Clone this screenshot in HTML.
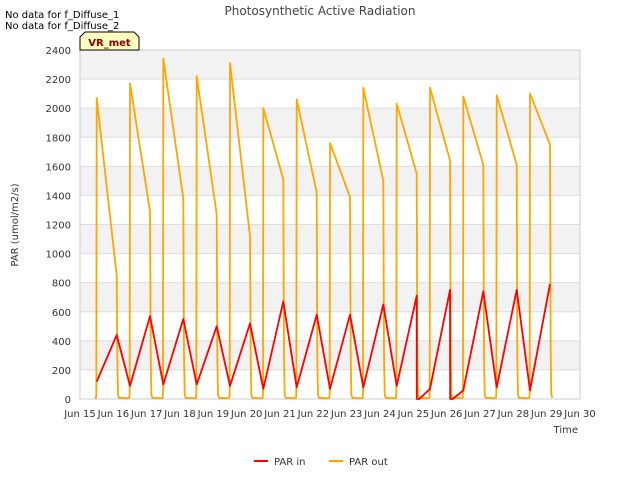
<!DOCTYPE html>
<html><head><meta charset="utf-8"><style>
body{margin:0;background:#fff;}
svg{display:block;font-family:"DejaVu Sans","Liberation Sans",sans-serif;}
</style></head><body>
<svg id="chart" width="640" height="480">
<rect x="0" y="0" width="640" height="480" fill="#fff"/>
<g id="bands"></g>
<g id="grid"></g>
<rect x="80" y="50" width="500" height="349" fill="none" stroke="#ccc"/>
<g id="yticks" font-size="10" fill="#333" text-anchor="end"></g>
<g id="xticks" font-size="10" fill="#333" text-anchor="middle"></g>
<g id="series"></g>
<text x="320" y="15" font-size="12" fill="#444" text-anchor="middle">Photosynthetic Active Radiation</text>
<text x="5" y="18" font-size="10" fill="#000">No data for f_Diffuse_1</text>
<text x="5" y="29" font-size="10" fill="#000">No data for f_Diffuse_2</text>
<g>
<path d="M80,50 L80,37 L85,32 L134,32 L139,37 L139,50 Z" fill="#ffffc0" stroke="#000"/>
<text x="109.5" y="46" font-size="10" font-weight="bold" fill="#8b0000" text-anchor="middle">VR_met</text>
</g>
<text x="18" y="225" font-size="10" fill="#333" text-anchor="middle" transform="rotate(-90 18 225)">PAR (umol/m2/s)</text>
<text x="578" y="433" font-size="10" fill="#333" text-anchor="end">Time</text>
<g>
<line x1="254" y1="461" x2="268" y2="461" stroke="#ff0000" stroke-width="2"/>
<text x="274" y="465" font-size="10" fill="#333">PAR in</text>
</g>
<g>
<line x1="329" y1="461" x2="343" y2="461" stroke="#ffa500" stroke-width="2"/>
<text x="349" y="465" font-size="10" fill="#333">PAR out</text>
</g>
</svg>
<script>
const days = [15,16,17,18,19,20,21,22,23,24,25,26,27,28];
const outPeak = [2070,2170,2340,2220,2310,2000,2060,1760,2140,2030,2140,2080,2090,2100];
const outEnd = [850,1290,1380,1270,1120,1510,1420,1390,1500,1550,1640,1610,1610,1750];
const inLow = [120,90,100,100,90,70,80,70,80,90,70,60,80,60];
const inHigh = [440,570,550,500,520,670,580,580,650,710,750,740,750,790];
const yTicks = [0,200,400,600,800,1000,1200,1400,1600,1800,2000,2200,2400];
const xTickDays = [15,16,17,18,19,20,21,22,23,24,25,26,27,28,29,30];
const NS="http://www.w3.org/2000/svg";
const X0=80,X1=580,Y0=399,Y1=50;
const xs=d=>X0+(d-15)/(30-15)*(X1-X0);
const ys=v=>Y0-v/2400*(Y0-Y1);
function mk(tag,attrs,parent){const e=document.createElementNS(NS,tag);for(const k in attrs)e.setAttribute(k,attrs[k]);parent.appendChild(e);return e;}
const bands=document.getElementById('bands'),grid=document.getElementById('grid');
for(let i=0;i<yTicks.length-1;i++){
 if(i%2===1){const r=mk('rect',{x:X0,y:ys(yTicks[i+1]),width:X1-X0,height:ys(yTicks[i])-ys(yTicks[i+1]),fill:'#f2f2f2'},bands);
 
 }
}
const yt=document.getElementById('yticks');
yTicks.forEach(v=>{
 const l=mk('line',{x1:X0,x2:X1,y1:ys(v),y2:ys(v),stroke:'#ddd'},grid);
 
 
 const t=mk('text',{x:X0-9,y:ys(v)+4},yt);t.textContent=v;
 
 
});
const xt=document.getElementById('xticks');
xTickDays.forEach(d=>{
 const t=mk('text',{x:xs(d),y:417},xt);t.textContent='Jun '+d;
 
 
});
let po=[];
days.forEach((d,i)=>{
 const s=d+0.5,e=d+1.1;
 po.push([s-0.06,5],[s-0.02,8],[s-0.01,40],[s,outPeak[i]],[e,outEnd[i]],[e+0.02,300],[e+0.04,30],[e+0.07,8]);
});
let pi=[];
days.forEach((d,i)=>{
 const s=d+0.5,e=d+1.1;
 if(i>0 && (days[i-1]===24||days[i-1]===25)){pi.push([s-0.32,0]);}
 pi.push([s,inLow[i]],[e,inHigh[i]]);
 if(d===24||d===25){pi.push([e+0.005,0]);}
});
const ser=document.getElementById('series');
const pOut=mk('path',{d:'M'+po.map(p=>xs(p[0]).toFixed(1)+','+ys(p[1]).toFixed(1)).join('L'),fill:'none',stroke:'#ffa500','stroke-width':1.8,'stroke-linejoin':'round'},ser);


const pIn=mk('path',{d:'M'+pi.map(p=>xs(p[0]).toFixed(1)+','+ys(p[1]).toFixed(1)).join('L'),fill:'none',stroke:'#ff0000','stroke-width':1.8,'stroke-linejoin':'round'},ser);


</script>
</body></html>
